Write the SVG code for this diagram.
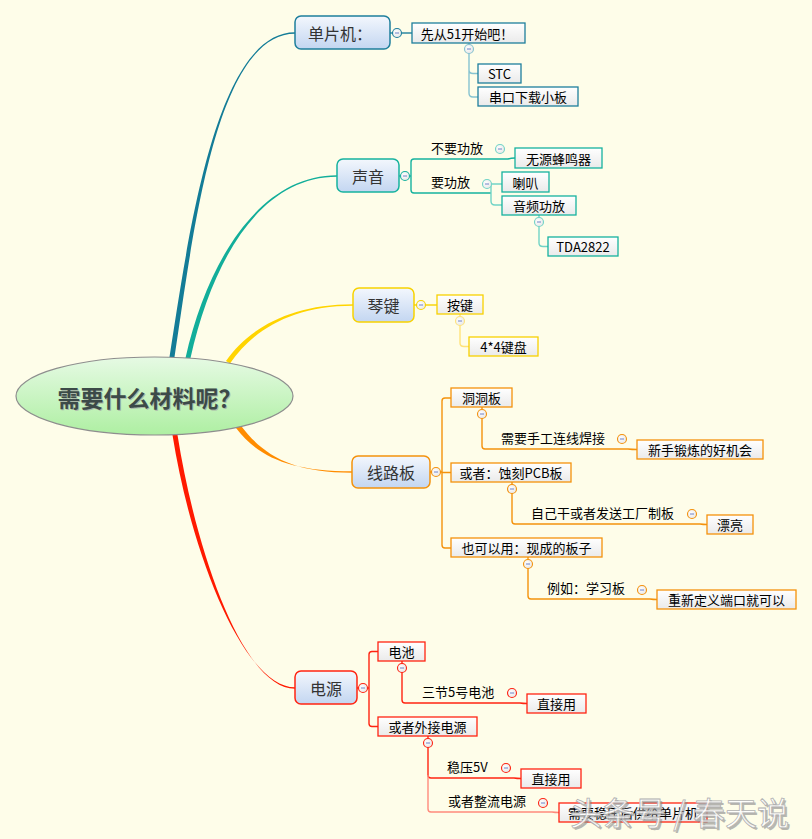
<svg xmlns="http://www.w3.org/2000/svg" width="812" height="839" viewBox="0 0 812 839">
<defs>
<linearGradient id="gMain" x1="0" y1="0" x2="0" y2="1"><stop offset="0" stop-color="#F3F7FD"/><stop offset="1" stop-color="#C3D6F1"/></linearGradient>
<linearGradient id="gSub" x1="0" y1="0" x2="0" y2="1"><stop offset="0" stop-color="#FFFFFF"/><stop offset="1" stop-color="#EAEAEA"/></linearGradient>
<linearGradient id="gCen" x1="0" y1="0" x2="0" y2="1"><stop offset="0" stop-color="#E6FAE4"/><stop offset="1" stop-color="#AEEFA2"/></linearGradient>
<radialGradient id="gDot" cx="0.4" cy="0.4" r="0.7"><stop offset="0" stop-color="#FFFFFF"/><stop offset="1" stop-color="#E4E4E4"/></radialGradient>
</defs>
<style>
text{font-family:"Noto Sans CJK SC","Noto Sans",sans-serif;}
.mt{font-size:16px;fill:#333;text-anchor:middle;dominant-baseline:central;}
.st{font-size:13px;fill:#000;text-anchor:middle;dominant-baseline:central;}
.lb{font-size:13px;fill:#000;}
.sub{fill:url(#gSub);stroke-width:1.3;}
.main{fill:url(#gMain);stroke-width:1.5;}
.ln{fill:none;stroke-width:1.4;}
.dot{fill:url(#gDot);stroke-width:1.1;}
.mn{stroke:#6E80C4;stroke-width:1;}
.c1{stroke:#1E7F9C;} .c1l{stroke:#86C3D0;}
.c2{stroke:#16B29E;} .c2l{stroke:#72D4C6;}
.c3{stroke:#F7D200;} .c3l{stroke:#FFE37A;}
.c4{stroke:#F4920C;} .c4l{stroke:#FFB54A;}
.c5{stroke:#FF2412;} .c5l{stroke:#FF8A7C;}
</style>
<rect width="812" height="839" fill="#FEFDE9"/>

<g id="connectors">
  <!-- main tapered branches -->
  <path d="M169.5,357 C188,240 215,32.3 295,32.3 L295,33.7 C215,33.7 192.5,240 174.5,357 Z" fill="#137C97"/>
  <path d="M185.5,358 C207.5,260 260,175.3 337,175.3 L337,176.7 C260,176.7 212.5,260 190.5,358 Z" fill="#12AE9A"/>
  <path d="M226,361 C248,329 290,304.3 353,304.3 L353,305.7 C290,305.7 252,331.5 230,363.5 Z" fill="#FFD400"/>
  <path d="M236,428 C258,457 290,471.3 352,471.3 L352,472.7 C290,472.7 262,454 240,424.5 Z" fill="#FF8C00"/>
  <path d="M172.5,435 C192.5,560 245,687.3 295,687.3 L295,688.7 C245,688.7 197.5,560 177.5,435 Z" fill="#FF1A00"/>

  <!-- 单片机 -->
  <path class="ln c1" d="M390,33 H412"/>
  <path class="ln c1l" d="M469,43 V45 M469,53 V70 Q469,73.5 473,73.5 H478 M469,70 V93 Q469,97 473,97 H478"/>
  <!-- 声音 -->
  <path class="ln c2" d="M399,176 H411"/>
  <path class="ln c2" d="M411,176 V162 Q411,159 414,159 H508 Q511,158 515,158 M411,176 V190 Q411,193 414,193 H491"/>
  <path class="ln c2l" d="M491,184 H502 M491,184 V201 Q491,205 495,205 H502 M539,215 V218 M539,226 V243 Q539,246.5 543,246.5 H548"/>
  <!-- 琴键 -->
  <path class="ln c3" d="M414,305 H437"/>
  <path class="ln c3l" d="M460,314 V317 M460,325 V343 Q460,346.5 464,346.5 H469"/>
  <!-- 线路板 -->
  <path class="ln c4" d="M430,472 H442 M451,398 H445 Q442,398 442,401 V545 Q442,548 445,548 H451 M442,472.5 H451"/>
  <path class="ln c4" d="M482,407 V410 M482,418 V446 Q482,449 485,449 H628 Q632,449.5 637,449.5"/>
  <path class="ln c4" d="M512,482 V485 M512,493 V521 Q512,524 515,524 H700 Q703,524.5 707,524.5"/>
  <path class="ln c4" d="M528,557 V560 M528,568 V596 Q528,599 531,599 H650 Q653,599.5 657,599.5"/>
  <!-- 电源 -->
  <path class="ln c5" d="M357,688 H369 M378,651.5 H372 Q369,651.5 369,654.5 V723.5 Q369,726.5 372,726.5 H378"/>
  <path class="ln c5" d="M402,661 V664 M402,672 V700 Q402,703 405,703 H520 Q523,703.5 527,703.5"/>
  <path class="ln c5" d="M428,736 V739 M428,747 V775 Q428,778 431,778 H514 Q517,778.5 521,778.5"/>
  <path class="ln c5l" d="M428,775 V809 Q428,812 431,812 H552 Q555,812.5 559,812.5"/>
</g>

<g id="center">
  <ellipse cx="154.5" cy="396" rx="138.5" ry="39" fill="url(#gCen)" stroke="#8E8E8E" stroke-width="1.2"/>
  <text x="150.5" y="398" font-size="23" font-weight="bold" fill="#AAB9A8" text-anchor="middle" dominant-baseline="central">需要什么材料呢？</text>
  <text x="149.5" y="397" font-size="23" font-weight="bold" fill="#3C4A48" text-anchor="middle" dominant-baseline="central">需要什么材料呢？</text>
</g>

<g id="node-danpianji">
  <rect class="main c1" x="295" y="16" width="95" height="33" rx="6"/>
  <text class="mt" x="340" y="32.5">单片机：</text>
  <circle class="dot c1" cx="397" cy="33" r="4.5"/><path class="mn" d="M395,33 H399"/>
</g>
<g id="node-xiancong">
  <rect class="sub c1" x="412" y="23" width="113" height="20"/>
  <text class="st" x="467" y="33">先从51开始吧！</text>
  <circle class="dot c1l" cx="469" cy="49" r="4.5"/><path class="mn" d="M467,49 H471"/>
</g>
<g id="node-stc">
  <rect class="sub c1" x="478" y="64" width="43" height="19"/>
  <text class="st" x="499.5" y="73.5">STC</text>
</g>
<g id="node-chuankou">
  <rect class="sub c1" x="478" y="87" width="100" height="19"/>
  <text class="st" x="528" y="96.5">串口下载小板</text>
</g>

<g id="node-shengyin">
  <rect class="main c2" x="337" y="159" width="62" height="33" rx="6"/>
  <text class="mt" x="368" y="175.5">声音</text>
  <circle class="dot c2" cx="405" cy="176" r="4.5"/><path class="mn" d="M403,176 H407"/>
</g>
<g id="label-buyao">
  <text class="lb" x="431" y="153">不要功放</text>
  <circle class="dot c2l" cx="500" cy="149" r="4.5"/><path class="mn" d="M498,149 H502"/>
</g>
<g id="node-wuyuan">
  <rect class="sub c2" x="515" y="148" width="87" height="20"/>
  <text class="st" x="558.5" y="158">无源蜂鸣器</text>
</g>
<g id="label-yao">
  <text class="lb" x="431" y="187">要功放</text>
  <circle class="dot c2l" cx="487" cy="184" r="4.5"/><path class="mn" d="M485,184 H489"/>
</g>
<g id="node-laba">
  <rect class="sub c2" x="502" y="172" width="47" height="20"/>
  <text class="st" x="525.5" y="182">喇叭</text>
</g>
<g id="node-yinpin">
  <rect class="sub c2" x="502" y="196" width="74" height="19"/>
  <text class="st" x="539" y="205.5">音频功放</text>
  <circle class="dot c2l" cx="539" cy="222" r="4.5"/><path class="mn" d="M537,222 H541"/>
</g>
<g id="node-tda">
  <rect class="sub c2" x="548" y="237" width="70" height="19"/>
  <text class="st" x="583" y="246.5">TDA2822</text>
</g>

<g id="node-qinjian">
  <rect class="main c3" x="353" y="288" width="61" height="34" rx="6"/>
  <text class="mt" x="383.5" y="305">琴键</text>
  <circle class="dot c3" cx="421" cy="305" r="4.5"/><path class="mn" d="M419,305 H423"/>
</g>
<g id="node-anjian">
  <rect class="sub c3" x="437" y="295" width="46" height="19"/>
  <text class="st" x="460" y="304.5">按键</text>
  <circle class="dot c3l" cx="460" cy="321" r="4.5"/><path class="mn" d="M458,321 H462"/>
</g>
<g id="node-jianpan">
  <rect class="sub c3" x="469" y="337" width="69" height="19"/>
  <text class="st" x="503.5" y="346.5">4*4键盘</text>
</g>

<g id="node-xianluban">
  <rect class="main c4" x="352" y="456" width="78" height="32" rx="6"/>
  <text class="mt" x="391" y="472">线路板</text>
  <circle class="dot c4" cx="436" cy="472" r="4.5"/><path class="mn" d="M434,472 H438"/>
</g>
<g id="node-dongdong">
  <rect class="sub c4" x="451" y="388" width="61" height="19"/>
  <text class="st" x="481.5" y="397.5">洞洞板</text>
  <circle class="dot c4" cx="482" cy="414" r="4.5"/><path class="mn" d="M480,414 H484"/>
</g>
<g id="label-shougong">
  <text class="lb" x="501" y="443">需要手工连线焊接</text>
  <circle class="dot c4" cx="622" cy="439" r="4.5"/><path class="mn" d="M620,439 H624"/>
</g>
<g id="node-xinshou">
  <rect class="sub c4" x="637" y="440" width="126" height="19"/>
  <text class="st" x="700" y="449.5">新手锻炼的好机会</text>
</g>
<g id="node-pcb">
  <rect class="sub c4" x="451" y="463" width="120" height="19"/>
  <text class="st" x="511" y="472.5">或者：蚀刻PCB板</text>
  <circle class="dot c4" cx="512" cy="489" r="4.5"/><path class="mn" d="M510,489 H514"/>
</g>
<g id="label-ziji">
  <text class="lb" x="531" y="518">自己干或者发送工厂制板</text>
  <circle class="dot c4" cx="692" cy="514" r="4.5"/><path class="mn" d="M690,514 H694"/>
</g>
<g id="node-piaoliang">
  <rect class="sub c4" x="707" y="515" width="46" height="19"/>
  <text class="st" x="730" y="524.5">漂亮</text>
</g>
<g id="node-xiancheng">
  <rect class="sub c4" x="451" y="538" width="151" height="19"/>
  <text class="st" x="526.5" y="547.5">也可以用：现成的板子</text>
  <circle class="dot c4" cx="528" cy="564" r="4.5"/><path class="mn" d="M526,564 H530"/>
</g>
<g id="label-liru">
  <text class="lb" x="547" y="593">例如：学习板</text>
  <circle class="dot c4" cx="642" cy="590" r="4.5"/><path class="mn" d="M640,590 H644"/>
</g>
<g id="node-chongxin">
  <rect class="sub c4" x="657" y="590" width="139" height="19"/>
  <text class="st" x="726.5" y="599.5">重新定义端口就可以</text>
</g>

<g id="node-dianyuan">
  <rect class="main c5" x="295" y="671" width="62" height="33" rx="6"/>
  <text class="mt" x="326" y="687.5">电源</text>
  <circle class="dot c5" cx="363" cy="688" r="4.5"/><path class="mn" d="M361,688 H365"/>
</g>
<g id="node-dianchi">
  <rect class="sub c5" x="378" y="642" width="47" height="19"/>
  <text class="st" x="401.5" y="651.5">电池</text>
  <circle class="dot c5" cx="402" cy="668" r="4.5"/><path class="mn" d="M400,668 H404"/>
</g>
<g id="label-sanjie">
  <text class="lb" x="422" y="697">三节5号电池</text>
  <circle class="dot c5" cx="512" cy="693" r="4.5"/><path class="mn" d="M510,693 H514"/>
</g>
<g id="node-zhijie1">
  <rect class="sub c5" x="527" y="694" width="59" height="19"/>
  <text class="st" x="556.5" y="703.5">直接用</text>
</g>
<g id="node-waijie">
  <rect class="sub c5" x="378" y="717" width="99" height="19"/>
  <text class="st" x="427.5" y="726.5">或者外接电源</text>
  <circle class="dot c5" cx="428" cy="743" r="4.5"/><path class="mn" d="M426,743 H430"/>
</g>
<g id="label-wenya">
  <text class="lb" x="447" y="772">稳压5V</text>
  <circle class="dot c5" cx="506" cy="768" r="4.5"/><path class="mn" d="M504,768 H508"/>
</g>
<g id="node-zhijie2">
  <rect class="sub c5" x="521" y="769" width="60" height="19"/>
  <text class="st" x="551" y="778.5">直接用</text>
</g>
<g id="label-zhengliu">
  <text class="lb" x="448" y="806">或者整流电源</text>
  <circle class="dot c5" cx="543" cy="803" r="4.5"/><path class="mn" d="M541,803 H545"/>
</g>
<g id="node-xuyao">
  <rect class="sub c5" x="559" y="803" width="148" height="19"/>
  <text class="st" x="633" y="812.5">需要稳压后供给单片机</text>
</g>

<g id="watermark">
  <text x="572" y="827" font-size="32" fill="#8A8A8A" opacity="0.6">头条号 / 春天说</text>
  <text x="570" y="825" font-size="32" fill="#FFFFFF" fill-opacity="0.85" stroke="#B0B0B0" stroke-width="0.8">头条号 / 春天说</text>
</g>
</svg>
